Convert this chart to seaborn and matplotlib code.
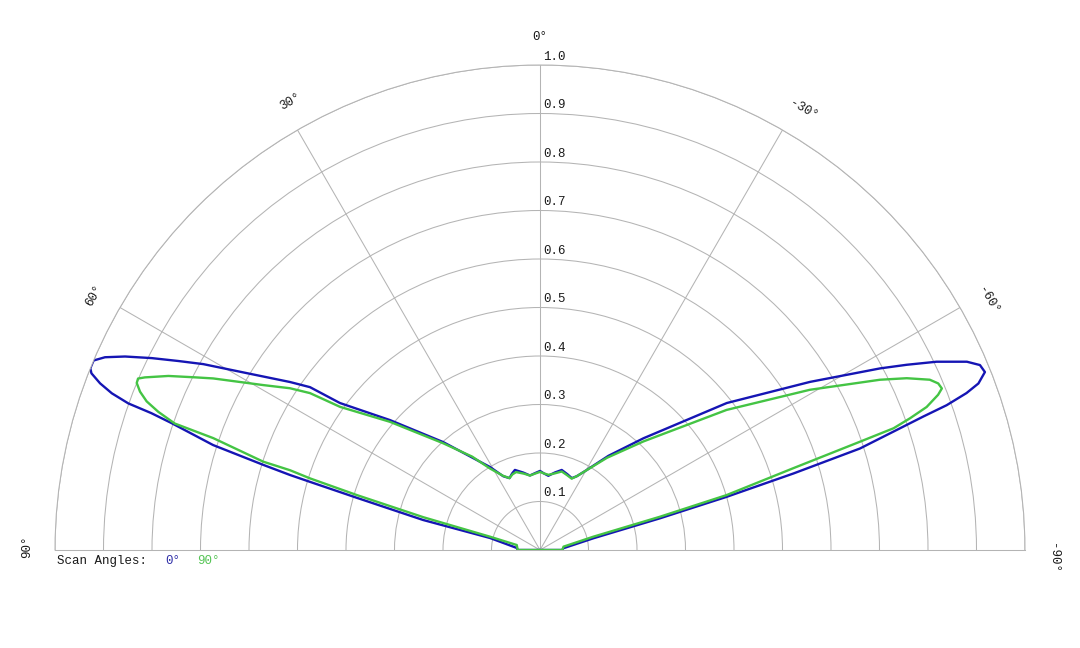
#!/usr/bin/env python3
"""Half-polar beam pattern for two scan angles, saved as out.png."""
import numpy as np
import pandas as pd
import matplotlib
matplotlib.use('Agg')
import matplotlib.pyplot as plt
import seaborn as sns

# angle in degrees (0 = broadside, positive to the left) and normalised level
theta_0 = [-90, -90, -85.8, -77.6, -75.2, -74.1, -73.2, -72.4, -71.4, -70.8, -70.4,
           -69.8, -69.2, -68.2, -67.2, -66.2, -64.6, -63.2, -61.9, -58.1, -51.8,
           -42.8, -36.0, -30.3, -26.5, -23.9, -20.0, -15.2, -11.0, -6.4, -3.0,
           0.0, 3.5, 7.7, 12.0, 17.4, 20.0, 23.0, 26.5, 31.1, 34.2, 41.9, 49.1,
           53.7, 54.7, 56.1, 58.9, 61.1, 62.4, 63.7, 65.0, 66.1, 67.0, 68.0, 68.5,
           69.25, 69.9, 70.4, 70.6, 71.0, 72.2, 72.9, 73.3, 73.5, 74.1, 75.6, 76.5,
           85.0, 90, 90]
r_0 = [0.0, 0.046, 0.048, 0.113, 0.256, 0.400, 0.546, 0.692, 0.776, 0.837, 0.890,
       0.937, 0.967, 0.988, 0.984, 0.962, 0.905, 0.847, 0.795, 0.656, 0.490,
       0.314, 0.240, 0.191, 0.170, 0.162, 0.166, 0.171, 0.163, 0.154, 0.158,
       0.163, 0.159, 0.155, 0.163, 0.173, 0.168, 0.161, 0.170, 0.200, 0.220, 0.299, 0.409,
       0.512, 0.581, 0.621, 0.706, 0.793, 0.841, 0.893, 0.944, 0.981, 1.000, 1.000, 0.994,
       0.970, 0.940, 0.901, 0.850, 0.803, 0.708, 0.597, 0.538, 0.494, 0.392, 0.249, 0.106,
       0.048, 0.046, 0.0]

theta_90 = [-90, -90, -81.9, -76.0, -74.5, -73.6, -72.1, -71.3, -71.0, -70.4, -69.7,
            -68.7, -68.1, -67.3, -66.4, -64.9, -63.4, -59.3, -53.1, -43.6, -36.0,
            -30.5, -26.5, -23.9, -20.0, -15.5, -11.0, -6.5, -3.0, 0.0, 3.5, 7.7,
            12.0, 17.0, 20.0, 23.0, 26.5, 31.5, 36.0, 42.2, 49.5, 54.4, 55.7, 57.1,
            59.2, 62.3, 63.4, 64.9, 66.4, 66.9, 67.5, 68.4, 69.3, 70.1, 70.9, 71.1,
            72.3, 72.3, 72.7, 73.3, 74.3, 75.1, 77.9, 90, 90]
r_90 = [0.0, 0.046, 0.049, 0.113, 0.257, 0.401, 0.549, 0.697, 0.771, 0.810, 0.850,
        0.881, 0.893, 0.890, 0.877, 0.835, 0.784, 0.647, 0.481, 0.309, 0.235,
        0.192, 0.170, 0.161, 0.164, 0.168, 0.161, 0.156, 0.158, 0.161, 0.158, 0.155,
        0.161, 0.168, 0.166, 0.161, 0.171, 0.197, 0.238, 0.297, 0.407, 0.507, 0.574, 0.614,
        0.664, 0.761, 0.795, 0.846, 0.889, 0.901, 0.900, 0.887, 0.867, 0.837, 0.797, 0.712,
        0.599, 0.541, 0.497, 0.395, 0.250, 0.107, 0.049, 0.046, 0.0]

r_ticks = [0.1, 0.2, 0.3, 0.4, 0.5, 0.6, 0.7, 0.8, 0.9, 1.0]
theta_ticks = [-60, -30, 0, 30, 60]
# (label, angle where it sits, rotation)
angle_labels = [('0°', 0, 0), ('30°', 29.1, 30), ('60°', 60.3, 60), ('90°', 89.6, 90),
                ('-30°', -30.9, -30), ('-60°', -60.9, -60), ('-90°', -90.9, -90)]

BLUE = '#1515b4'
GREEN = '#44c444'
GRID = '#b4b4b4'

sns.set_style('white')
plt.rcParams['font.family'] = ['Liberation Mono', 'DejaVu Sans Mono']

W, H = 1080, 648
cx, cy, R = 540, 550, 485  # centre and radius in pixels

fig = plt.figure(figsize=(W / 100, H / 100), dpi=100)
# polar axes keep a square box; the half disc sits in its middle
side = 2 * R
ax = fig.add_axes([(cx - R) / W, (H - (cy - R / 2) - R) / H, side / W, side / H],
                  projection='polar')
ax.set_theta_zero_location('N')
ax.set_theta_direction(1)
ax.set_thetamin(-90)
ax.set_thetamax(90)

df0 = pd.DataFrame({'theta': np.deg2rad(theta_0), 'r': r_0})
df90 = pd.DataFrame({'theta': np.deg2rad(theta_90), 'r': r_90})
sns.lineplot(data=df0, x='theta', y='r', ax=ax, sort=False, estimator=None,
             color=BLUE, linewidth=1.7)
sns.lineplot(data=df90, x='theta', y='r', ax=ax, sort=False, estimator=None,
             color=GREEN, linewidth=1.7)

ax.set_ylim(0, 1)
ax.set_rticks(r_ticks)
ax.set_yticklabels([])
ax.set_thetagrids(theta_ticks, labels=[''] * len(theta_ticks))
ax.set_xlabel('')
ax.set_ylabel('')
ax.tick_params(length=0)
ax.grid(True, color=GRID, linewidth=0.75)
for sp in ax.spines.values():
    sp.set_color(GRID)
    sp.set_linewidth(0.75)

for r in r_ticks:
    ax.annotate(f'{r:.1f}', xy=(0, r), xytext=(2.2, 1.5), textcoords='offset points',
                ha='left', va='bottom', fontsize=9, color='#1a1a1a')

for lab, ang, rot in angle_labels:
    ax.text(np.deg2rad(ang), 1.058, lab, rotation=rot, ha='center', va='center',
            fontsize=9, color='#1a1a1a')

fig.text(57 / W, 1 - 561 / H, 'Scan Angles:', fontsize=9, va='center', color='#1a1a1a')
fig.text(165 / W, 1 - 561 / H, '0°', fontsize=9, va='center', color='#3030a8')
fig.text(197 / W, 1 - 561 / H, '90°', fontsize=9, va='center', color='#55c455')

fig.savefig('out.png', dpi=100)
